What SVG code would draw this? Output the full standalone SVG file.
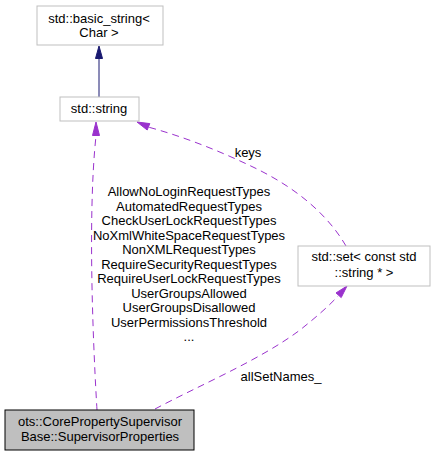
<svg xmlns="http://www.w3.org/2000/svg" width="435" height="456" viewBox="0 0 435 456">
<style>
text{font-family:"Liberation Sans",Arial,sans-serif;font-size:13px;fill:#000;text-anchor:middle}
.box{fill:#fff;stroke:#bfbfbf;stroke-width:1}
.main{fill:#bfbfbf;stroke:#000;stroke-width:1}
.dep{fill:none;stroke:#9a32cd;stroke-width:1;stroke-dasharray:7,5}
.inh{fill:none;stroke:#191970;stroke-width:1}
</style>
<rect width="435" height="456" fill="#fff"/>
<g id="connectors">
<path class="inh" d="M99,97 L99,58"/>
<polygon points="99,46 95.5,58.5 102.5,58.5" fill="#191970" stroke="#191970"/>
<path class="dep" d="M97,410 C94,360 87,220 96,136"/>
<polygon points="96,122 92.5,135.5 99.5,135.5" fill="#9a32cd" stroke="#9a32cd"/>
<path class="dep" d="M346,246 C325,210 290,185 255,168 C222,152 185,137 148,127"/>
<polygon points="137,122 149.8,123.6 147.2,130" fill="#9a32cd" stroke="#9a32cd"/>
<path class="dep" d="M155,409 C200,385 260,360 300,330 C315,318 328,307 338,296"/>
<polygon points="347,286 341.2,297.6 336,292.9" fill="#9a32cd" stroke="#9a32cd"/>
<text x="248" y="157">keys</text>
<text x="189" y="196">AllowNoLoginRequestTypes</text>
<text x="189" y="210.5">AutomatedRequestTypes</text>
<text x="189" y="225">CheckUserLockRequestTypes</text>
<text x="189" y="239.5">NoXmlWhiteSpaceRequestTypes</text>
<text x="189" y="254">NonXMLRequestTypes</text>
<text x="189" y="268.5">RequireSecurityRequestTypes</text>
<text x="189" y="283">RequireUserLockRequestTypes</text>
<text x="189" y="297.5">UserGroupsAllowed</text>
<text x="189" y="312">UserGroupsDisallowed</text>
<text x="189" y="326.5">UserPermissionsThreshold</text>
<text x="189" y="341">...</text>
<text x="281" y="381">allSetNames_</text>
</g>
<g id="node-basic-string">
<rect class="box" x="37" y="6" width="126" height="39"/>
<text x="99" y="23">std::basic_string&lt;</text>
<text x="99" y="37">Char &gt;</text>
</g>
<g id="node-string">
<rect class="box" x="60" y="97" width="79" height="24"/>
<text x="99" y="113">std::string</text>
</g>
<g id="node-set">
<rect class="box" x="298" y="246" width="132" height="40"/>
<text x="364" y="261">std::set&lt; const std</text>
<text x="364" y="277">::string * &gt;</text>
</g>
<g id="node-main">
<rect class="main" x="5" y="410" width="189" height="40"/>
<text x="100" y="426">ots::CorePropertySupervisor</text>
<text x="100" y="441">Base::SupervisorProperties</text>
</g>
</svg>
